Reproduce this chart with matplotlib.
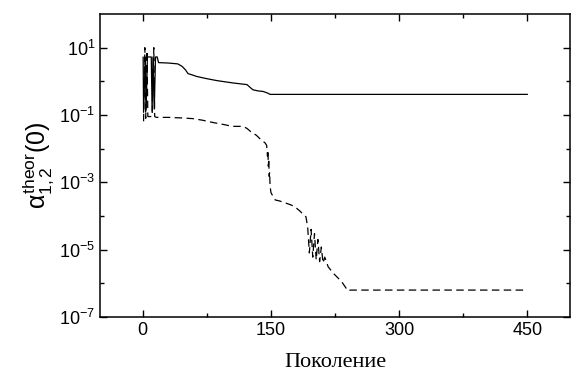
import math
import matplotlib
matplotlib.use("Agg")
import matplotlib.pyplot as plt
from matplotlib.ticker import FixedLocator, FuncFormatter, NullFormatter

plt.rcParams["font.family"] = "Liberation Sans"
plt.rcParams["mathtext.fontset"] = "custom"
plt.rcParams["mathtext.rm"] = "Liberation Sans"
plt.rcParams["mathtext.it"] = "Liberation Sans"
plt.rcParams["mathtext.bf"] = "Liberation Sans:bold"
plt.rcParams["axes.unicode_minus"] = False

# Solid curve (generation, value)
solid_gen = [0.5, 1, 3, 4, 5.5, 10, 11, 12, 13.5, 15, 17, 18.5, 30, 41, 46, 50,
             53, 58, 63, 75, 87, 105, 122, 126, 129, 135, 141, 146, 149, 200, 300, 450]
solid_val = [5.2, 0.12, 5.3, 0.14, 5.3, 5.3, 0.13, 5.3, 0.15, 5.3, 5.3, 3.6, 3.5, 3.3, 2.8, 2.2,
             1.7, 1.55, 1.4, 1.2, 1.05, 0.9, 0.8, 0.65, 0.56, 0.52, 0.5, 0.45, 0.41, 0.41, 0.41, 0.41]

# Dashed curve (generation, value)
dash_gen = [1, 2.5, 3.5, 5, 6, 11, 13, 14, 16, 30, 45, 59, 70, 82, 95, 105, 117,
            122, 127, 133, 139, 143, 145, 146, 146.5, 147, 147.5, 148, 148.5, 149, 150,
            152, 155, 160, 164, 172, 176, 180, 184, 188, 191,
            193, 195, 197, 199, 201, 203, 205, 207, 209, 211, 213, 217, 223, 229, 233, 237, 240, 243, 300, 450]
dash_val = [0.065, 10, 0.08, 8, 0.09, 0.09, 10, 0.09, 0.085, 0.085, 0.082, 0.078, 0.07, 0.06, 0.052, 0.046, 0.046,
            0.04, 0.031, 0.025, 0.0178, 0.015, 0.0126, 0.006, 0.009, 0.003, 0.005, 0.0015, 0.002, 0.0008, 0.0005,
            0.0004, 0.0003, 0.00028, 0.00026, 0.00022, 0.0002, 0.00017, 0.00014, 0.00011, 0.000095,
            4.7e-5, 8e-6, 4e-5, 6e-6, 3e-5, 5e-6, 2e-5, 4.4e-6, 1.2e-5, 4e-6, 6e-6, 3.1e-6, 2e-6, 1.4e-6, 1.1e-6,
            7.8e-7, 6e-7, 6.3e-7, 6.3e-7, 6.3e-7]

x_major = [0, 150, 300, 450]
x_minor = [75, 225, 375]
y_major = [1e-7, 1e-5, 1e-3, 1e-1, 1e1]
y_minor = [1e-6, 1e-4, 1e-2, 1e0]

fig = plt.figure(figsize=(5.73, 3.84), dpi=100)
ax = fig.add_axes([0.1745, 0.1745, 0.8203, 0.789])

ax.plot(solid_gen, solid_val, color="black", lw=0.9)
ax.plot(dash_gen, dash_val, color="black", lw=0.9, dashes=(6, 3.5))

ax.set_yscale("log")
ax.set_xlim(-50, 500)
ax.set_ylim(1e-7, 1e2)

ax.xaxis.set_major_locator(FixedLocator(x_major))
ax.xaxis.set_minor_locator(FixedLocator(x_minor))
ax.yaxis.set_major_locator(FixedLocator(y_major))
ax.yaxis.set_minor_locator(FixedLocator(y_minor))
ax.yaxis.set_major_formatter(FuncFormatter(lambda v, p: r"$10^{%d}$" % round(math.log10(v))))
ax.yaxis.set_minor_formatter(NullFormatter())

ax.tick_params(which="both", direction="in", top=True, right=True, labelsize=13, width=1)
ax.tick_params(which="major", length=5)
ax.tick_params(which="minor", length=3)
for s in ax.spines.values():
    s.set_linewidth(1.1)

ax.set_xlabel("Поколение", family="Liberation Serif", fontsize=16, labelpad=10)
ax.set_ylabel(r"$\alpha^{\mathrm{theor}}_{1,2}(0)$", fontsize=18, labelpad=2)

fig.savefig("out.png", dpi=100)
